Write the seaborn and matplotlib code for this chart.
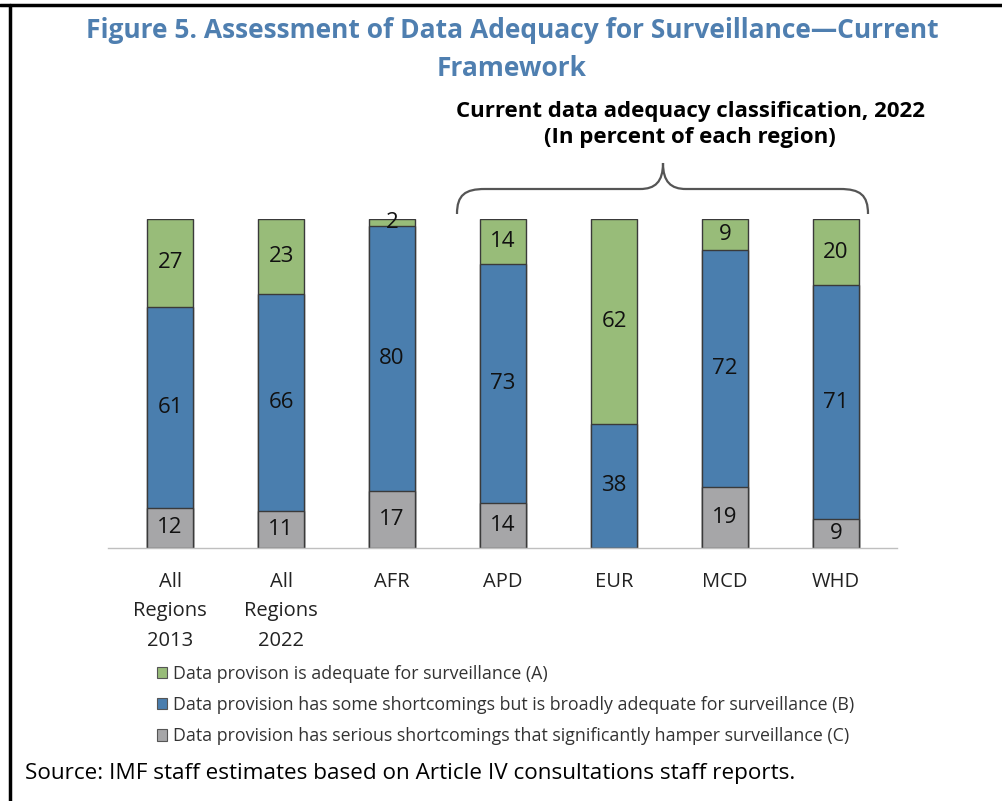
import matplotlib
matplotlib.use("Agg")
import matplotlib.pyplot as plt
import seaborn as sns
import numpy as np
from matplotlib.path import Path
from matplotlib.patches import PathPatch, Patch
from matplotlib.lines import Line2D

# 데이터 (그림에서 읽은 값, 단위: %)
regions = ["All\nRegions\n2013", "All\nRegions\n2022", "AFR", "APD", "EUR", "MCD", "WHD"]
adequate_a = [26.7, 22.8, 2.2, 13.6, 62.3, 9.4, 20.1]
broadly_b = [61.1, 66.0, 80.4, 72.8, 37.7, 72.0, 71.1]
serious_c = [12.2, 11.2, 17.4, 13.6, 0.0, 18.6, 8.8]

legend_labels = [
    "Data provison is adequate for surveillance (A)",
    "Data provision has some shortcomings but is broadly adequate for surveillance (B)",
    "Data provision has serious shortcomings that significantly hamper surveillance (C)",
]

GREEN = "#98BC79"
BLUE = "#4A7EAE"
GREY = "#A6A6A8"
EDGE = "#3a3a3a"
TITLE_BLUE = "#4F7FB0"

sns.set_style("white")
plt.rcParams["font.family"] = ["Open Sans", "DejaVu Sans"]

W, H = 1002, 801
fig = plt.figure(figsize=(W / 100, H / 100), dpi=100)


def px(x, y):
    # 픽셀 좌표 -> figure 비율 좌표
    return x / W, 1 - y / H


ax = fig.add_axes([108 / W, (H - 548) / H, 789 / W, 329 / H])

# 누적 막대: 큰 합계부터 그려서 겹치기
c = np.array(serious_c)
bc = c + np.array(broadly_b)
abc = bc + np.array(adequate_a)
for vals, col in [(abc, GREEN), (bc, BLUE), (c, GREY)]:
    sns.barplot(x=regions, y=vals, order=regions, color=col, width=0.42,
                edgecolor=EDGE, linewidth=1.0, ax=ax, saturation=1)

# 값 레이블
for i in range(len(regions)):
    for bottom, val in [(0, serious_c[i]), (c[i], broadly_b[i]), (bc[i], adequate_a[i])]:
        if val <= 0:
            continue
        ax.text(i, bottom + val / 2, f"{round(val)}", ha="center", va="center",
                fontsize=16, color="#111111")

ax.set_xlim(-0.56, 6.55)
ax.set_ylim(0, 100)
ax.set_yticks([])
ax.set_ylabel("")
for s in ["left", "top", "right"]:
    ax.spines[s].set_visible(False)
ax.spines["bottom"].set_color("#BFBFBF")
ax.spines["bottom"].set_linewidth(1)
ax.set_xticks(np.arange(-0.5, 7, 1), minor=True)
ax.tick_params(axis="x", which="minor", length=8, color="#BFBFBF", width=1, direction="out")
ax.tick_params(axis="x", which="major", length=0, pad=17, labelsize=14.5, labelcolor="#222222")
for lab in ax.get_xticklabels():
    lab.set_linespacing(1.65)
    lab.set_va("top")

# 제목
fig.text(*px(512, 30), "Figure 5. Assessment of Data Adequacy for Surveillance\u2014Current",
         ha="center", va="center", fontsize=19, fontweight="bold", color=TITLE_BLUE)
fig.text(*px(512, 68), "Framework", ha="center", va="center", fontsize=19,
         fontweight="bold", color=TITLE_BLUE)
fig.text(*px(690, 112), "Current data adequacy classification, 2022", ha="center",
         va="center", fontsize=16, fontweight="bold", color="black")
fig.text(*px(690, 138), "(In percent of each region)", ha="center", va="center",
         fontsize=16, fontweight="bold", color="black")

# 중괄호
verts = [(457, 214), (457, 195), (465, 189), (485, 189), (640, 189),
         (655, 189), (663, 182), (663, 163), (663, 182), (671, 189), (686, 189),
         (840, 189), (860, 189), (868, 195), (868, 214)]
codes = [Path.MOVETO, Path.CURVE4, Path.CURVE4, Path.CURVE4, Path.LINETO,
         Path.CURVE4, Path.CURVE4, Path.CURVE4, Path.CURVE4, Path.CURVE4, Path.CURVE4,
         Path.LINETO, Path.CURVE4, Path.CURVE4, Path.CURVE4]
brace = Path([px(x, y) for x, y in verts], codes)
fig.add_artist(PathPatch(brace, facecolor="none", edgecolor="#555555", lw=1.6,
                         transform=fig.transFigure))

# 범례
handles = [Patch(facecolor=col, edgecolor="#555555", linewidth=0.8) for col in [GREEN, BLUE, GREY]]
fig.legend(handles, legend_labels, loc="upper left", bbox_to_anchor=px(153, 661),
           frameon=False, fontsize=12.8, handlelength=0.6, handleheight=0.6,
           handletextpad=0.3, labelspacing=0.75, labelcolor="#333333",
           borderaxespad=0, borderpad=0.2)

# 출처
fig.text(*px(25, 773), "Source: IMF staff estimates based on Article IV consultations staff reports.",
         ha="left", va="center", fontsize=16.2, color="black")

# 테두리 선
fig.add_artist(Line2D([0, 1], [1 - 5 / H, 1 - 5 / H], color="black", lw=2.5, transform=fig.transFigure))
fig.add_artist(Line2D([10 / W, 10 / W], [0, 1 - 5 / H], color="black", lw=2.5, transform=fig.transFigure))

fig.savefig("out.png", dpi=100)
plt.close(fig)
